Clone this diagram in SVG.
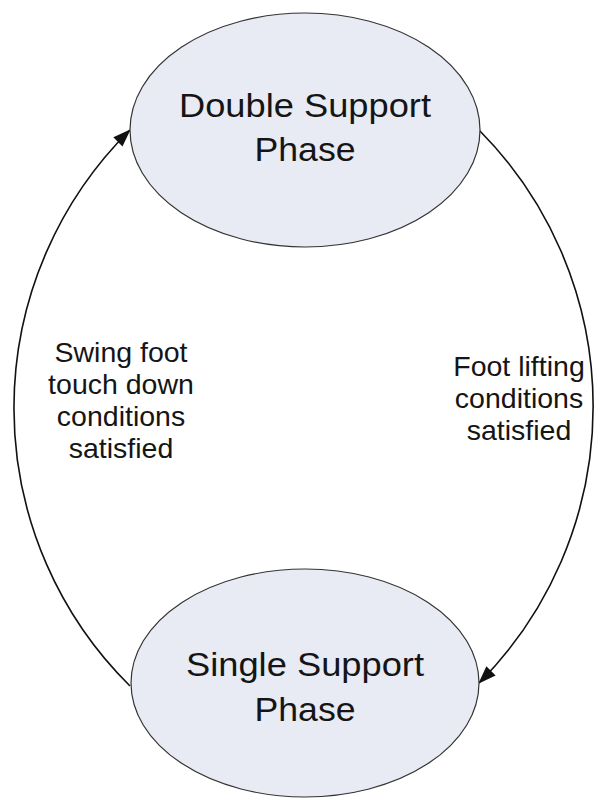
<svg xmlns="http://www.w3.org/2000/svg" width="595" height="799" viewBox="0 0 595 799">
  <defs>
    <marker id="arrow" viewBox="0 0 18 13" refX="17" refY="6.5" markerWidth="18" markerHeight="13" markerUnits="userSpaceOnUse" orient="auto">
      <path d="M0,0 L18,6.5 L0,13 z" fill="#111"/>
    </marker>
    <style>
      .state { fill: #e8ebf3; stroke: #333; stroke-width: 1.2; }
      .title { font-family: "Liberation Sans", Arial, sans-serif; font-size: 34px; fill: #151515; text-anchor: middle; }
      .label { font-family: "Liberation Sans", Arial, sans-serif; font-size: 28.5px; fill: #151515; text-anchor: middle; }
      .edge { fill: none; stroke: #111; stroke-width: 1.6; marker-end: url(#arrow); }
    </style>
  </defs>
  <rect width="595" height="799" fill="#ffffff"/>

  <g id="connectors">
    <!-- single support -> double support (left side) -->
    <path class="edge" d="M130,686 A391,391 0 0 1 130,130"/>
    <!-- double support -> single support (right side) -->
    <path class="edge" d="M479,130 A392,392 0 0 1 479,683"/>
  </g>

  <g id="double-support">
    <ellipse class="state" cx="305" cy="130" rx="175" ry="117"/>
    <text class="title" x="305" y="117" textLength="252" lengthAdjust="spacingAndGlyphs">Double Support</text>
    <text class="title" x="305" y="161" textLength="101" lengthAdjust="spacingAndGlyphs">Phase</text>
  </g>

  <g id="single-support">
    <ellipse class="state" cx="305" cy="683" rx="174" ry="114"/>
    <text class="title" x="305" y="676" textLength="238" lengthAdjust="spacingAndGlyphs">Single Support</text>
    <text class="title" x="305" y="721" textLength="101" lengthAdjust="spacingAndGlyphs">Phase</text>
  </g>

  <g id="label-touch-down">
    <text class="label" x="121" y="362">Swing foot</text>
    <text class="label" x="121" y="394">touch down</text>
    <text class="label" x="121" y="426">conditions</text>
    <text class="label" x="121" y="458">satisfied</text>
  </g>

  <g id="label-foot-lift">
    <text class="label" x="519" y="376">Foot lifting</text>
    <text class="label" x="519" y="408">conditions</text>
    <text class="label" x="519" y="440">satisfied</text>
  </g>
</svg>
